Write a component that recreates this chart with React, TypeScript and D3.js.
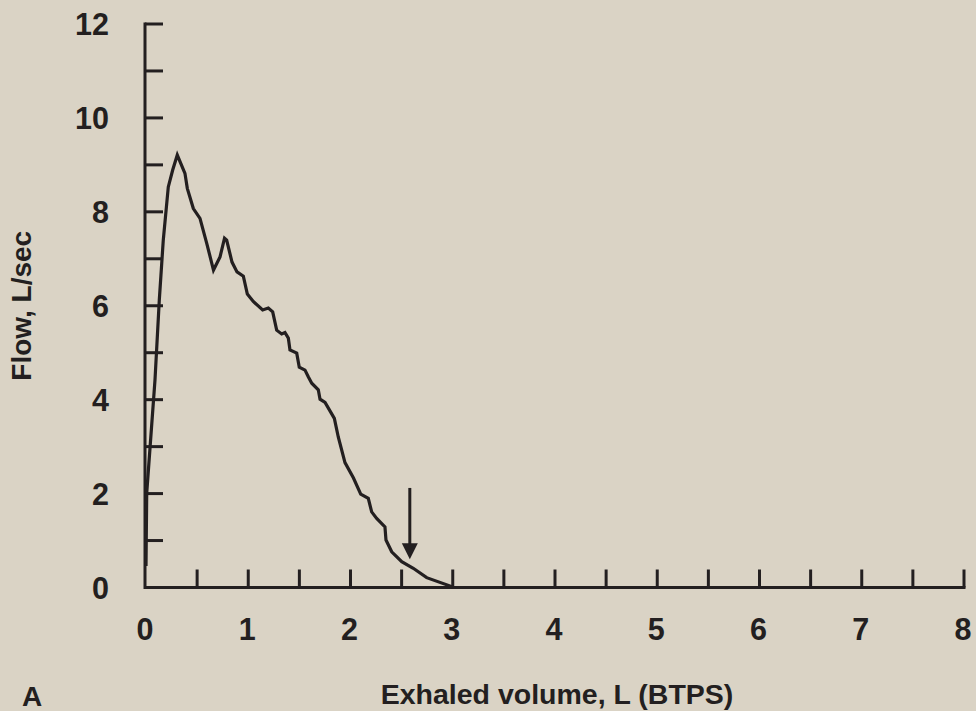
import React from "react";
import * as d3 from "d3";

// Flow-volume curve (exhaled volume L, flow L/sec)
const volume = [0, 0.007, 0.088, 0.13, 0.169, 0.218, 0.261, 0.306, 0.381, 0.404, 0.463, 0.528, 0.594, 0.66, 0.724, 0.768, 0.789, 0.841, 0.89, 0.952, 0.991, 1.049, 1.141, 1.196, 1.239, 1.278, 1.327, 1.359, 1.392, 1.408, 1.474, 1.499, 1.555, 1.587, 1.621, 1.685, 1.702, 1.751, 1.842, 1.881, 1.946, 2.029, 2.1, 2.174, 2.207, 2.256, 2.337, 2.347, 2.403, 2.501, 2.614, 2.745, 2.99, 3.0];
const flow = [0.46, 2.01, 4.42, 6.12, 7.4, 8.53, 8.89, 9.21, 8.82, 8.5, 8.07, 7.86, 7.33, 6.76, 7.04, 7.44, 7.4, 6.93, 6.72, 6.63, 6.25, 6.09, 5.91, 5.95, 5.87, 5.48, 5.4, 5.43, 5.31, 5.06, 4.99, 4.69, 4.63, 4.49, 4.35, 4.21, 4.01, 3.94, 3.6, 3.2, 2.66, 2.33, 1.99, 1.9, 1.61, 1.47, 1.29, 1.01, 0.76, 0.55, 0.41, 0.21, 0.02, 0];

const xTicks = [0.5, 1, 1.5, 2, 2.5, 3, 3.5, 4, 4.5, 5, 5.5, 6, 6.5, 7, 7.5, 8];
const xLabels = [0, 1, 2, 3, 4, 5, 6, 7, 8];
const yTicks = [1, 2, 3, 4, 5, 6, 7, 8, 9, 10, 11, 12];
const yLabels = [0, 2, 4, 6, 8, 10, 12];

const arrowVolume = 2.58;
const arrowFrom = 2.12;
const arrowTo = 0.6;

const xTitle = "Exhaled volume, L (BTPS)";
const yTitle = "Flow, L/sec";
const panelLabel = "A";

const W = 976;
const H = 711;
const BG = "#dad3c5";
const INK = "#231f20";
const FONT = "'Liberation Sans', Arial, Helvetica, sans-serif";

export default function App() {
  const x = d3.scaleLinear().domain([0, 8]).range([146, 964]);
  const y = d3.scaleLinear().domain([0, 12]).range([587.5, 24]);
  const pts: [number, number][] = volume.map((v, i) => [v, flow[i]]);
  const line = d3
    .line<[number, number]>()
    .x((d) => x(d[0]))
    .y((d) => y(d[1]));

  const axisX = 145;
  const ax = x(arrowVolume);
  const headTop = y(arrowTo) - 16;

  return (
    <svg
      width={W}
      height={H}
      style={{ position: "absolute", left: 0, top: 0, display: "block" }}
      fontFamily={FONT}
      fontWeight="bold"
    >
      <rect x={0} y={0} width={W} height={H} fill={BG} />
      {/* axes */}
      <path
        d={`M${axisX},${y(12)} L${axisX},${y(0)} L${x(8)},${y(0)}`}
        fill="none"
        stroke={INK}
        strokeWidth={3}
        strokeLinejoin="miter"
        strokeLinecap="square"
      />
      {yTicks.map((t) => (
        <line key={"yt" + t} x1={axisX} x2={axisX + 18} y1={y(t)} y2={y(t)} stroke={INK} strokeWidth={3} />
      ))}
      {xTicks.map((t) => (
        <line key={"xt" + t} x1={x(t)} x2={x(t)} y1={y(0)} y2={y(0) - 18} stroke={INK} strokeWidth={3} />
      ))}
      {yLabels.map((t) => (
        <text key={"yl" + t} x={109} y={y(t) + 11} textAnchor="end" fontSize={30.5} fill={INK}>
          {t}
        </text>
      ))}
      {xLabels.map((t) => (
        <text key={"xl" + t} x={x(t) - 1} y={640} textAnchor="middle" fontSize={30.5} fill={INK}>
          {t}
        </text>
      ))}
      {/* curve */}
      <path d={line(pts) || ""} fill="none" stroke={INK} strokeWidth={3.2} strokeLinejoin="miter" />
      {/* arrow */}
      <line x1={ax} x2={ax} y1={y(arrowFrom)} y2={headTop + 2} stroke={INK} strokeWidth={3} />
      <path d={`M${ax - 8},${headTop} L${ax + 8},${headTop} L${ax},${y(arrowTo)} Z`} fill={INK} />
      {/* titles */}
      <text x={557} y={704} textAnchor="middle" fontSize={28.5} fill={INK}>
        {xTitle}
      </text>
      <text
        transform={`translate(31, ${(y(0) + y(12)) / 2}) rotate(-90)`}
        textAnchor="middle"
        fontSize={28}
        fill={INK}
      >
        {yTitle}
      </text>
      <text x={22} y={706} fontSize={28} fill={INK}>
        {panelLabel}
      </text>
    </svg>
  );
}
